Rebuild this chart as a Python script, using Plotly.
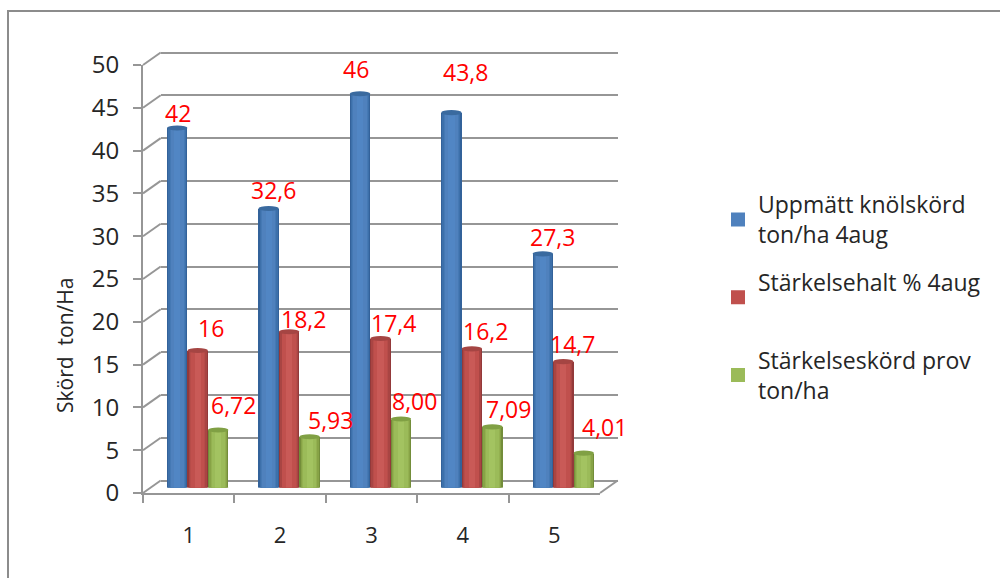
import plotly.graph_objects as go

W, H = 1000, 578
categories = ["1", "2", "3", "4", "5"]
series_names = ["Uppmätt knölskörd<br>ton/ha 4aug", "Stärkelsehalt % 4aug<br> ", "Stärkelseskörd prov<br>ton/ha"]
tuber = [42, 32.6, 46, 43.8, 27.3]
starch_pct = [16, 18.2, 17.4, 16.2, 14.7]
starch_yield = [6.72, 5.93, 8.00, 7.09, 4.01]
labels_tuber = ["42", "32,6", "46", "43,8", "27,3"]
labels_pct = ["16", "18,2", "17,4", "16,2", "14,7"]
labels_yield = ["6,72", "5,93", "8,00", "7,09", "4,01"]
y_ticks = [0, 5, 10, 15, 20, 25, 30, 35, 40, 45, 50]

series = [tuber, starch_pct, starch_yield]
labels = [labels_tuber, labels_pct, labels_yield]
ramps = [
    ["#33629a", "#3d70aa", "#4579b4", "#4b7fbb", "#5186c4"],
    ["#93393a", "#a94543", "#b74c49", "#c0514e", "#c95a57"],
    ["#738d3a", "#87a346", "#93b050", "#9bba58", "#a3c361"],
]
legend_colors = ["#4f81bd", "#c0504d", "#9bbb59"]
cap_colors = ["#3a6a9f", "#a54543", "#80a044"]
label_dx = [[1, 5, -4, 14, 10], [13, 14, 13, 14, 9], [15, 21, 14, 16, 21]]
label_dy = [[15, 18, 25, 41, 17], [23, 13, 16, 18, 18], [25, 17, 18, 18, 26]]

BAR_W = 0.224
NEST = [(1.0, 0), (0.88, 1), (0.74, 2), (0.55, 3), (0.3, 4)]
OFFS = [-0.224, 0, 0.224]

px_per = 428 / 50
GRID_PAD = 2  # px of slack so the 0 and 50 gridlines are not dropped at the axis ends

def dom_x(x0):
    return [x0 / W, (x0 + 457) / W]

def dom_y(bottom, pad=0):
    return [1 - (bottom + pad) / H, 1 - (bottom - 428 - pad) / H]

BACK = (160.7, 480.5)
MID = (152, 487.5)
FRONT = (143, 493)
GRID = "#969696"

fig = go.Figure()
fig.add_trace(go.Scatter(x=[None], y=[None], xaxis="x", yaxis="y", showlegend=False))

shapes = []
for i, (vals, ramp) in enumerate(zip(series, ramps)):
    xs = [k + 1 + OFFS[i] for k in range(5)]
    for frac, c in NEST:
        is_legend = c == 3
        fig.add_trace(go.Bar(
            x=xs, y=vals, width=BAR_W * frac, xaxis="x2", yaxis="y2",
            marker=dict(color=legend_colors[i] if is_legend else ramp[c],
                        line=dict(width=2 if is_legend else 0, color=legend_colors[i])),
            name=series_names[i], legendgroup=f"s{i}", showlegend=is_legend,
            hoverinfo="skip"))
    for x, v in zip(xs, vals):
        shapes.append(dict(type="circle", xref="x2", yref="y2", layer="above",
                           x0=x - BAR_W / 2, x1=x + BAR_W / 2, y0=v - 0.3, y1=v + 0.3,
                           fillcolor=cap_colors[i], line_width=0))
        shapes.append(dict(type="circle", xref="x2", yref="y2", layer="below",
                           x0=x - BAR_W / 2, x1=x + BAR_W / 2, y0=-0.2, y1=0.2,
                           fillcolor=ramp[1], line_width=0))

fig.add_trace(go.Scatter(x=categories, y=[None] * 5, xaxis="x3", yaxis="y3", showlegend=False))

for t in y_ticks:
    shapes.append(dict(type="line", xref="paper", yref="paper",
                       x0=FRONT[0] / W, x1=BACK[0] / W,
                       y0=1 - (FRONT[1] - t * px_per) / H, y1=1 - (BACK[1] - t * px_per) / H,
                       line=dict(color=GRID, width=2)))
shapes.append(dict(type="line", xref="paper", yref="paper",
                   x0=(FRONT[0] + 457) / W, x1=(BACK[0] + 457) / W,
                   y0=1 - FRONT[1] / H, y1=1 - BACK[1] / H,
                   line=dict(color=GRID, width=2)))
shapes.append(dict(type="rect", xref="paper", yref="paper",
                   x0=8 / W, x1=1.1, y0=-0.1, y1=1 - 11 / H, layer="below",
                   line=dict(color="#8c8c8c", width=2), fillcolor="rgba(0,0,0,0)"))

FONT = "Open Sans"
TEXT = "#262626"
ann = [dict(text="Skörd  ton/Ha", xref="paper", yref="paper", x=65 / W, y=1 - 346 / H,
            xanchor="center", yanchor="middle",
            textangle=-90, showarrow=False, font=dict(size=21, color=TEXT))]
for i, vals in enumerate(series):
    for k, v in enumerate(vals):
        ann.append(dict(text=labels[i][k], xref="x2", yref="y2", x=k + 1 + OFFS[i], y=v,
                        xshift=label_dx[i][k], yshift=label_dy[i][k], showarrow=False,
                        font=dict(size=23, color="#ff0000")))

hidden = dict(showticklabels=False, ticks="", showline=False, zeroline=False)
pad_u = GRID_PAD / px_per
fig.update_layout(
    width=W, height=H, margin=dict(l=0, r=0, t=0, b=0, autoexpand=False),
    paper_bgcolor="white", plot_bgcolor="rgba(0,0,0,0)",
    barmode="overlay", bargap=0,
    font=dict(family=FONT, size=22, color=TEXT),
    xaxis=dict(domain=dom_x(BACK[0]), range=[0, 1], showgrid=False, anchor="y", **hidden),
    yaxis=dict(domain=dom_y(BACK[1], GRID_PAD), range=[-pad_u, 50 + pad_u], tickvals=y_ticks,
               showgrid=True, gridcolor=GRID, gridwidth=2, anchor="x", **hidden),
    xaxis2=dict(domain=dom_x(MID[0]), range=[0.5, 5.5], showgrid=False, anchor="y2", **hidden),
    yaxis2=dict(domain=dom_y(MID[1]), range=[0, 50], showgrid=False, anchor="x2", **hidden),
    xaxis3=dict(domain=dom_x(FRONT[0]), type="category", categoryorder="array",
                categoryarray=categories, range=[-0.5, 4.5], tickson="boundaries",
                ticks="outside", ticklen=8,
                tickwidth=2, tickcolor=GRID, showline=True, linecolor=GRID, linewidth=2,
                showgrid=False, zeroline=False, anchor="y3", ticklabelstandoff=22,
                tickfont=dict(size=22, color=TEXT)),
    yaxis3=dict(domain=dom_y(FRONT[1]), range=[0, 50], tickvals=y_ticks, ticks="outside",
                ticklen=8, tickwidth=2, tickcolor=GRID, showline=True, linecolor=GRID,
                linewidth=2, showgrid=False, zeroline=False, anchor="x3", ticklabelstandoff=9,
                tickfont=dict(size=24, color=TEXT)),
    legend=dict(x=718 / W, y=1 - 183 / H, xanchor="left", yanchor="top",
                font=dict(size=23, color=TEXT), tracegroupgap=15,
                bgcolor="rgba(0,0,0,0)", traceorder="grouped"),
    shapes=shapes, annotations=ann,
)
fig.write_html("out.html", config=dict(displayModeBar=False),
               post_script="document.body.style.margin='0';")
